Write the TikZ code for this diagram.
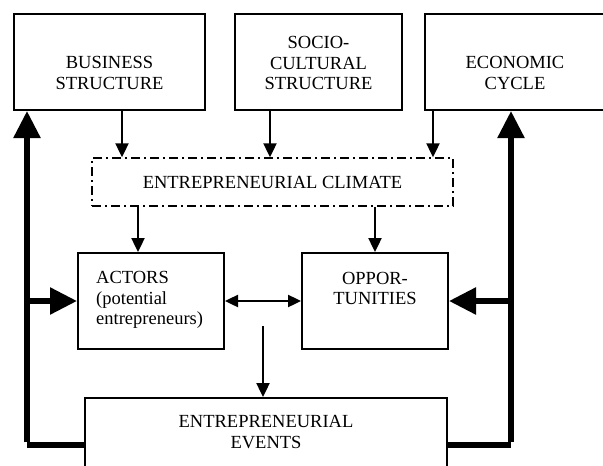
\documentclass[tikz,border=0pt]{standalone}
\usepackage{fontspec}
\setmainfont{Liberation Serif}
\usetikzlibrary{arrows.meta}
\begin{document}
\begin{tikzpicture}[x=1pt,y=-1pt,
  box/.style={draw, line width=2pt, inner sep=0pt},
  climatebox/.style={draw, line width=1.5pt, inner sep=0pt,
    dash pattern=on 9pt off 4pt on 2pt off 4pt},
  txt/.style={font=\fontsize{18.5}{20.5}\selectfont, align=center, inner sep=0pt},
  flow/.style={line width=2.4pt, -{Triangle[width=13pt,length=14pt]}},
  both/.style={line width=2.4pt, {Triangle[width=12pt,length=13pt]}-{Triangle[width=12pt,length=13pt]}},
  feedback/.style={line width=5.5pt},
  feedhead/.style={line width=5.5pt, -{Triangle[width=26pt,length=27pt]}}]
\useasboundingbox (0,0) rectangle (603,466);
\clip (0,0) rectangle (603,466);

% structural conditions
\node[box, minimum width=191pt, minimum height=96pt] (bus) at (109.5,62) {};
\node[txt] (bust) at (109.5,73) {BUSINESS\\STRUCTURE};
\node[box, minimum width=167pt, minimum height=96pt] (soc) at (318.5,62) {};
\node[txt] (soct) at (318.5,63) {SOCIO-\\CULTURAL\\STRUCTURE};
\node[box, minimum width=185pt, minimum height=96pt] (eco) at (517.5,62) {};
\node[txt] (ecot) at (515,73) {ECONOMIC\\CYCLE};

% climate
\node[climatebox, minimum width=361pt, minimum height=48pt] (cli) at (272.5,182) {};
\node[txt] (clit) at (272.5,182) {ENTREPRENEURIAL CLIMATE};

% actors and opportunities
\node[box, minimum width=146pt, minimum height=96pt] (act) at (151,301) {};
\node[txt, align=left, anchor=west] (actt) at (96,300) {ACTORS\\(potential\\entrepreneurs)};
\node[box, minimum width=146pt, minimum height=96pt] (opp) at (375,301) {};
\node[txt] (oppt) at (375,288.5) {OPPOR-\\TUNITIES};

% events
\node[box, minimum width=362pt, minimum height=80pt, anchor=north] (evt) at (266,397) {};
\node[txt] (evtt) at (266,432) {ENTREPRENEURIAL\\EVENTS};

% arrows into the climate
\draw[flow] (bus.south -| 122,0) -- (cli.north -| 122,0);
\draw[flow] (soc.south -| 270,0) -- (cli.north -| 270,0);
\draw[flow] (eco.south -| 433,0) -- (cli.north -| 433,0);

% climate to actors and opportunities
\draw[flow] (cli.south -| 138,0) -- (act.north -| 138,0);
\draw[flow] (cli.south -| 375,0) -- (opp.north -| 375,0);

% interaction and outcome
\draw[both] (act.east) -- (opp.west);
\coordinate (src) at (263,326);
\draw[flow] (src) -- (evt.north -| src);

% feedback loops
\coordinate (lb) at (27,445);
\coordinate (rb) at (511,445);
\draw[feedback] (evt.west |- lb) -- (lb);
\draw[feedhead] ([yshift=2.75pt]lb) -- (bus.south -| lb);
\draw[feedhead] (lb |- act.west) -- (act.west);
\draw[feedback] (evt.east |- rb) -- (rb);
\draw[feedhead] ([yshift=2.75pt]rb) -- (eco.south -| rb);
\draw[feedhead] (rb |- opp.east) -- (opp.east);
\end{tikzpicture}
\end{document}
